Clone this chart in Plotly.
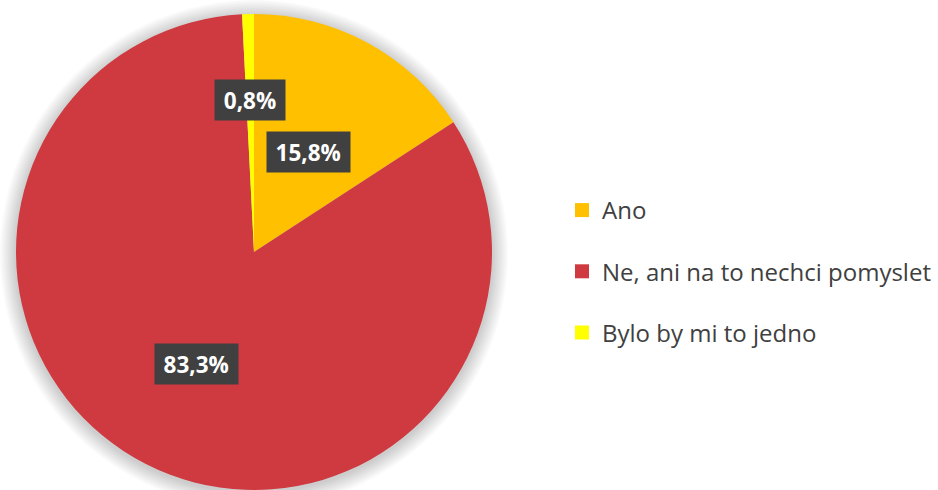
import math
import plotly.graph_objects as go

# ---- data ----
categories = ["Ano", "Ne, ani na to nechci pomyslet", "Bylo by mi to jedno"]
values = [15.8, 83.3, 0.8]
label_texts = ["15,8%", "83,3%", "0,8%"]
colors = ["#FFC000", "#CE3A40", "#FFFF00"]

# ---- layout constants (px) ----
W, H = 938, 490
CX, CY, R = 254, 252, 238
label_radius = [0.48, 0.53, 0.64]

fig = go.Figure()

fig.add_trace(go.Pie(
    labels=categories,
    values=values,
    sort=False,
    direction="clockwise",
    rotation=0,
    textinfo="none",
    hoverinfo="label+percent",
    marker=dict(colors=colors, line=dict(width=0)),
    showlegend=False,
    domain=dict(x=[(CX - R) / W, (CX + R) / W], y=[1 - (CY + R) / H, 1 - (CY - R) / H]),
))

# legend entries (dummy markers)
for cat, col in zip(categories, colors):
    fig.add_trace(go.Scatter(
        x=[None], y=[None], mode="markers", name=cat, legendgroup=cat,
        marker=dict(symbol="square", size=14, color=col, line=dict(width=0)),
        showlegend=True,
    ))

# soft shadow around the pie
shapes = []
for i in range(1, 11):
    rr = R + i * 1.6
    shapes.append(dict(
        type="circle", xref="paper", yref="paper", layer="below",
        x0=(CX - rr) / W, x1=(CX + rr) / W,
        y0=1 - (CY + 2 + rr) / H, y1=1 - (CY + 2 - rr) / H,
        fillcolor="rgba(0,0,0,0.02)", line=dict(width=0),
    ))

# data labels
annotations = []
total = sum(values)
cum = 0.0
for v, t, rf in zip(values, label_texts, label_radius):
    mid = math.radians((cum + v / 2) / total * 360)
    cum += v
    px = CX + rf * R * math.sin(mid)
    py = CY - rf * R * math.cos(mid)
    annotations.append(dict(
        x=px / W, y=1 - py / H, xref="paper", yref="paper",
        text="<b>%s</b>" % t, showarrow=False,
        font=dict(family="Open Sans", size=22.5, color="white"),
        bgcolor="#404040", borderpad=6, width=12.5 * len(t) + 8, height=28,
        xanchor="center", yanchor="middle",
    ))

fig.update_layout(
    width=W, height=H,
    margin=dict(l=0, r=0, t=0, b=0),
    paper_bgcolor="white", plot_bgcolor="white",
    xaxis=dict(visible=False), yaxis=dict(visible=False),
    shapes=shapes,
    annotations=annotations,
    legend=dict(
        x=562 / W, y=1 - 271.5 / H, xanchor="left", yanchor="middle",
        font=dict(family="Open Sans", size=24, color="#404040"),
        tracegroupgap=27, itemwidth=30,
        bgcolor="rgba(0,0,0,0)",
    ),
)

fig.write_html("out.html", config={"displayModeBar": False},
               post_script="document.body.style.margin='0';")
